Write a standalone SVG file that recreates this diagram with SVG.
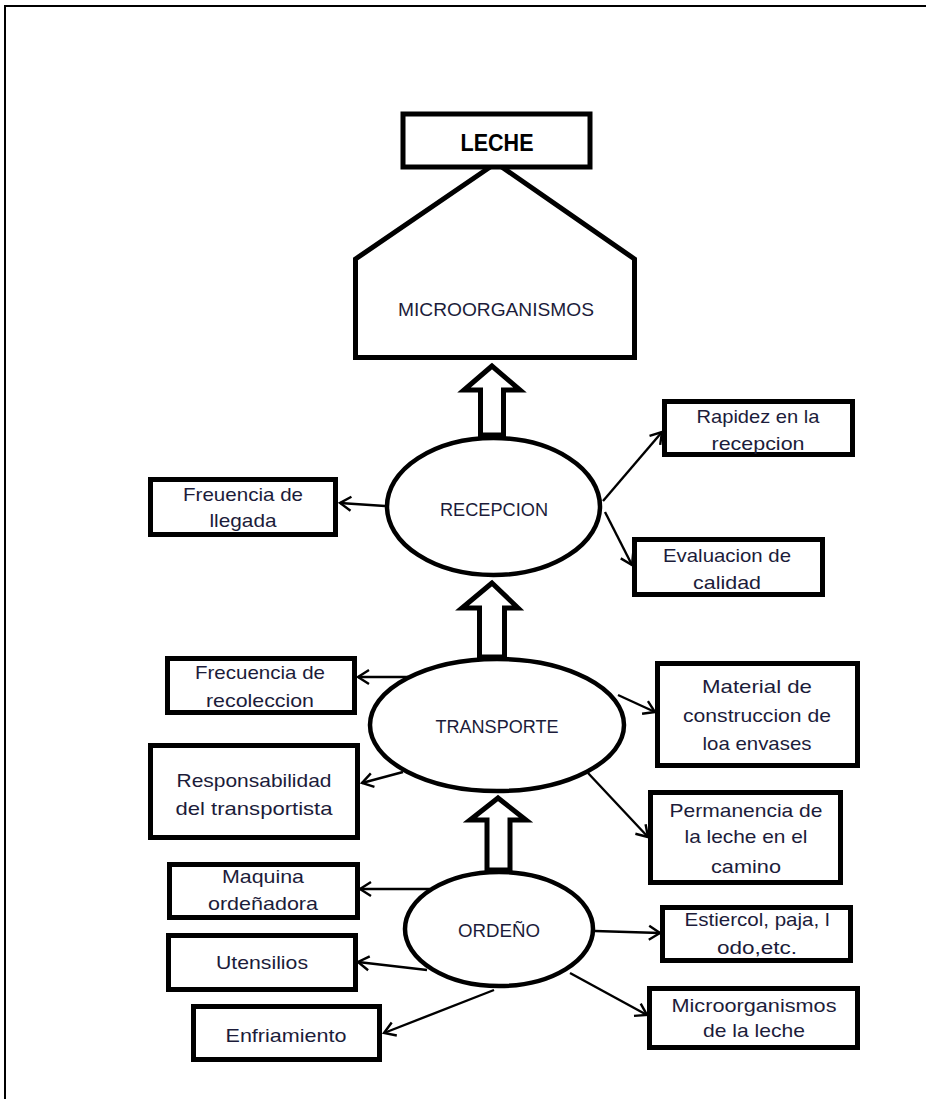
<svg xmlns="http://www.w3.org/2000/svg" width="926" height="1099" viewBox="0 0 926 1099">
<style>
.box{fill:#fff;stroke:#000;stroke-width:5}
.ell{fill:#fff;stroke:#000;stroke-width:4.5}
.blk{fill:#fff;stroke:#000;stroke-width:5;stroke-linejoin:miter}
.con{stroke:#000;stroke-width:2.4;fill:none;marker-end:url(#ah)}
text{font-family:"Liberation Sans",Arial,sans-serif;font-size:19px;fill:#1c1c3a;text-anchor:middle}
.ttl{font-weight:bold;font-size:23px;fill:#000}
.up{font-size:17.5px}
</style>
<defs>
<marker id="ah" markerUnits="userSpaceOnUse" markerWidth="14" markerHeight="16" refX="12" refY="8" orient="auto" overflow="visible">
<path d="M1,1 L12,8 L1,15" fill="none" stroke="#000" stroke-width="2.4"/>
</marker>
</defs>
<rect width="926" height="1099" fill="#fff"/>
<path d="M5,1099 L5,6 L926,6" fill="none" stroke="#000" stroke-width="2"/>

<g id="connectors">
<line class="con" x1="385" y1="506" x2="340" y2="503"/>
<line class="con" x1="603" y1="501" x2="662" y2="432"/>
<line class="con" x1="605" y1="512" x2="632" y2="565"/>
<line class="con" x1="408" y1="677" x2="358" y2="677"/>
<line class="con" x1="403" y1="772" x2="362" y2="783"/>
<line class="con" x1="618" y1="695" x2="655" y2="712"/>
<line class="con" x1="588" y1="773" x2="648" y2="837"/>
<line class="con" x1="430" y1="889" x2="360" y2="889"/>
<line class="con" x1="427" y1="970" x2="358" y2="962"/>
<line class="con" x1="494" y1="990" x2="384" y2="1033"/>
<line class="con" x1="595" y1="931" x2="660" y2="933"/>
<line class="con" x1="570" y1="973" x2="647" y2="1015"/>
<polygon class="blk" points="492,366 464,390 480.5,390 480.5,435 503.5,435 503.5,390 520,390"/>
<polygon class="blk" points="492,583 462,608 479.5,608 479.5,657 504.5,657 504.5,608 518,608"/>
<polygon class="blk" points="498,798 470,820 487,820 487,870 510,870 510,820 526,820"/>
</g>

<g id="microorganismos">
<polygon class="box" points="496,163 355.5,259 355.5,357.5 634.5,357.5 634.5,259"/>
<text class="up" x="496" y="316" textLength="196" lengthAdjust="spacingAndGlyphs">MICROORGANISMOS</text>
</g>
<g id="leche">
<rect class="box" x="403" y="114" width="187" height="53" stroke-width="6"/>
<text class="ttl" x="497" y="151" textLength="73" lengthAdjust="spacingAndGlyphs">LECHE</text>
</g>

<g id="recepcion">
<ellipse class="ell" cx="493.5" cy="506.5" rx="106.5" ry="68.5"/>
<text class="up" x="494" y="516" textLength="108" lengthAdjust="spacingAndGlyphs">RECEPCION</text>
</g>
<g id="transporte">
<ellipse class="ell" cx="497" cy="725" rx="127" ry="66"/>
<text class="up" x="497" y="733" textLength="123" lengthAdjust="spacingAndGlyphs">TRANSPORTE</text>
</g>
<g id="ordeno">
<ellipse class="ell" cx="499" cy="929" rx="94" ry="57"/>
<text class="up" x="499" y="937" textLength="82" lengthAdjust="spacingAndGlyphs">ORDEÑO</text>
</g>

<g id="frecuencia-llegada">
<rect class="box" x="150.5" y="479.5" width="185" height="55"/>
<text x="243" y="501" textLength="120" lengthAdjust="spacingAndGlyphs">Freuencia de</text>
<text x="243" y="527" textLength="67" lengthAdjust="spacingAndGlyphs">llegada</text>
</g>
<g id="rapidez">
<rect class="box" x="664.5" y="401.5" width="188" height="53"/>
<text x="758" y="423" textLength="123" lengthAdjust="spacingAndGlyphs">Rapidez en la</text>
<text x="758" y="450" textLength="93" lengthAdjust="spacingAndGlyphs">recepcion</text>
</g>
<g id="evaluacion">
<rect class="box" x="634.5" y="539.5" width="188" height="55"/>
<text x="727" y="562" textLength="128" lengthAdjust="spacingAndGlyphs">Evaluacion de</text>
<text x="727" y="589" textLength="68" lengthAdjust="spacingAndGlyphs">calidad</text>
</g>
<g id="frecuencia-recoleccion">
<rect class="box" x="167.5" y="658.5" width="187" height="54"/>
<text x="260" y="679" textLength="130" lengthAdjust="spacingAndGlyphs">Frecuencia de</text>
<text x="260" y="707" textLength="108" lengthAdjust="spacingAndGlyphs">recoleccion</text>
</g>
<g id="material">
<rect class="box" x="657.5" y="663.5" width="200" height="102"/>
<text x="757" y="693" textLength="110" lengthAdjust="spacingAndGlyphs">Material de</text>
<text x="757" y="722" textLength="148" lengthAdjust="spacingAndGlyphs">construccion de</text>
<text x="757" y="750" textLength="109" lengthAdjust="spacingAndGlyphs">loa envases</text>
</g>
<g id="responsabilidad">
<rect class="box" x="150.5" y="745.5" width="207" height="92"/>
<text x="254" y="787" textLength="155" lengthAdjust="spacingAndGlyphs">Responsabilidad</text>
<text x="254" y="815" textLength="157" lengthAdjust="spacingAndGlyphs">del transportista</text>
</g>
<g id="permanencia">
<rect class="box" x="650.5" y="792.5" width="190" height="90"/>
<text x="746" y="817" textLength="153" lengthAdjust="spacingAndGlyphs">Permanencia de</text>
<text x="746" y="843" textLength="123" lengthAdjust="spacingAndGlyphs">la leche en el</text>
<text x="746" y="873" textLength="70" lengthAdjust="spacingAndGlyphs">camino</text>
</g>
<g id="maquina">
<rect class="box" x="169.5" y="864.5" width="188" height="53"/>
<text x="263" y="883" textLength="82" lengthAdjust="spacingAndGlyphs">Maquina</text>
<text x="263" y="910" textLength="110" lengthAdjust="spacingAndGlyphs">ordeñadora</text>
</g>
<g id="estiercol">
<rect class="box" x="662.5" y="907.5" width="188" height="53"/>
<text x="757" y="926" textLength="145" lengthAdjust="spacingAndGlyphs">Estiercol, paja, l</text>
<text x="757" y="954" textLength="80" lengthAdjust="spacingAndGlyphs">odo,etc.</text>
</g>
<g id="utensilios">
<rect class="box" x="168.5" y="935.5" width="187" height="54"/>
<text x="262" y="969" textLength="92" lengthAdjust="spacingAndGlyphs">Utensilios</text>
</g>
<g id="microorganismos-leche">
<rect class="box" x="649.5" y="988.5" width="208" height="59"/>
<text x="754" y="1012" textLength="165" lengthAdjust="spacingAndGlyphs">Microorganismos</text>
<text x="754" y="1037" textLength="102" lengthAdjust="spacingAndGlyphs">de la leche</text>
</g>
<g id="enfriamiento">
<rect class="box" x="193.5" y="1006.5" width="186" height="53"/>
<text x="286" y="1042" textLength="121" lengthAdjust="spacingAndGlyphs">Enfriamiento</text>
</g>
</svg>
